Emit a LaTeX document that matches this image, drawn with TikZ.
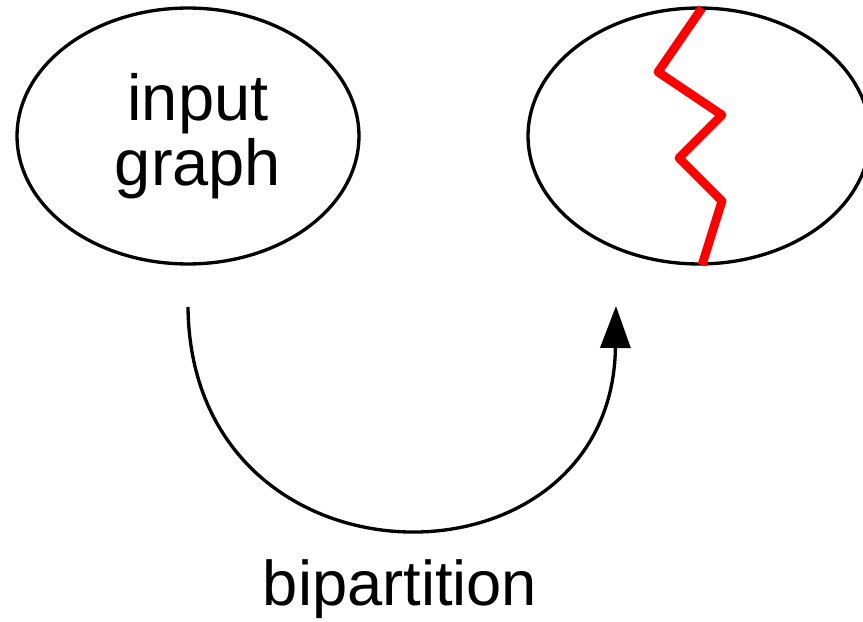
\documentclass[tikz,border=0pt]{standalone}
\usepackage{fontspec}
\setmainfont{Liberation Sans}
\usetikzlibrary{shapes,arrows.meta,positioning}
\tikzstyle{blob}=[ellipse,draw,line width=1.9pt,minimum width=6.84cm,minimum height=5.12cm,inner sep=0pt]
\tikzstyle{lbl}=[align=center,inner sep=0pt,font=\fontsize{37}{37}\selectfont]
\tikzstyle{cut}=[red,line width=5pt,line join=round]
\tikzstyle{arr}=[-{Triangle[length=0.84cm,width=0.6cm]},line width=1.9pt]

\begin{document}
\begin{tikzpicture}[x=0.02cm,y=-0.02cm]
\useasboundingbox (0,0) rectangle (863,622);
\node[blob] (input) at (188,136) {};
\node[lbl] (inputtxt) at (198,136) {input\\graph};
\node[blob] (part) at (699,136) {};
% the cut through the graph
\draw[cut] (702,8) -- (658,72) -- (722,115) -- (679,158) -- (722,201) -- (702,265);
\coordinate (from) at (188,307);
\coordinate (to) at (616,306);
\draw[arr] (from) .. controls (191,600) and (612,600) .. (to);
\node[lbl, anchor=base, font=\fontsize{36}{36}\selectfont] (bip) at (400,605) {bipartition};
\end{tikzpicture}
\end{document}
